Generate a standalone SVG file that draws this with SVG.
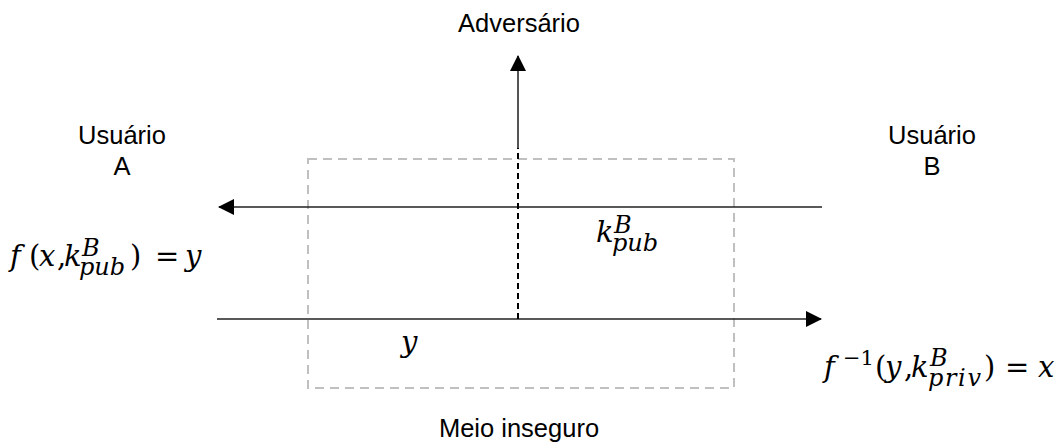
<svg xmlns="http://www.w3.org/2000/svg" width="1060" height="444" viewBox="0 0 1060 444">
<style>
.lbl{font-family:"Liberation Sans",Arial,sans-serif;font-size:25.5px;fill:#000}
.m{font-family:"DejaVu Serif","Liberation Serif",serif;font-style:italic;font-size:29px;fill:#000}
.s{font-size:24px}
.r{font-style:normal}
.ln{stroke:#222;stroke-width:1.6;fill:none}
</style>
<defs>
<marker id="ah" viewBox="0 0 16 16" refX="15" refY="8" markerWidth="16" markerHeight="16" markerUnits="userSpaceOnUse" orient="auto">
<path d="M0,0 L16,8 L0,16 z" fill="#000"/>
</marker>
</defs>
<g id="medium">
<rect x="308" y="159" width="426" height="229" fill="none" stroke="#c0c0c0" stroke-width="2" stroke-dasharray="9,6"/>
</g>
<g id="connectors">
<line class="ln" x1="822" y1="207" x2="219" y2="207" marker-end="url(#ah)"/>
<line class="ln" x1="217" y1="319" x2="821" y2="319" marker-end="url(#ah)"/>
<line x1="518" y1="319" x2="518" y2="147" stroke="#000" stroke-width="2" stroke-dasharray="6,4"/>
<line x1="518" y1="148" x2="518" y2="56" stroke="#555" stroke-width="2" marker-end="url(#ah)"/>
</g>
<g id="adversario"><text class="lbl" x="519" y="32" text-anchor="middle">Adversário</text></g>
<g id="usuarioA"><text class="lbl" x="122" y="144" text-anchor="middle">Usuário</text><text class="lbl" x="122" y="175" text-anchor="middle">A</text></g>
<g id="usuarioB"><text class="lbl" x="932" y="144" text-anchor="middle">Usuário</text><text class="lbl" x="932" y="175" text-anchor="middle">B</text></g>
<g id="meio"><text class="lbl" x="519" y="437" text-anchor="middle">Meio inseguro</text></g>
<g id="formulaA"><text class="m"><tspan x="10" y="266">f</tspan><tspan class="r" x="29">(</tspan><tspan x="39">x</tspan><tspan class="r" x="57">,</tspan><tspan x="64">k</tspan><tspan class="s" x="82" y="256">B</tspan><tspan class="s" x="79" y="275">pub</tspan><tspan class="r" x="130" y="266">)</tspan><tspan class="r" x="155">=</tspan><tspan x="185">y</tspan></text></g>
<g id="kpub"><text class="m"><tspan x="596" y="242">k</tspan><tspan class="s" x="614" y="233">B</tspan><tspan class="s" x="612" y="251">pub</tspan></text></g>
<g id="yLabel"><text class="m" x="401" y="352">y</text></g>
<g id="formulaB"><text class="m"><tspan x="824" y="377">f</tspan><tspan class="r" x="843" y="365" font-size="21">−1</tspan><tspan class="r" x="875" y="377">(</tspan><tspan x="885">y</tspan><tspan class="r" x="904">,</tspan><tspan x="911">k</tspan><tspan class="s" x="930" y="366">B</tspan><tspan class="s" x="928" y="386" textLength="53">priv</tspan><tspan class="r" x="984" y="377">)</tspan><tspan class="r" x="1005">=</tspan><tspan x="1038">x</tspan></text></g>
</svg>
